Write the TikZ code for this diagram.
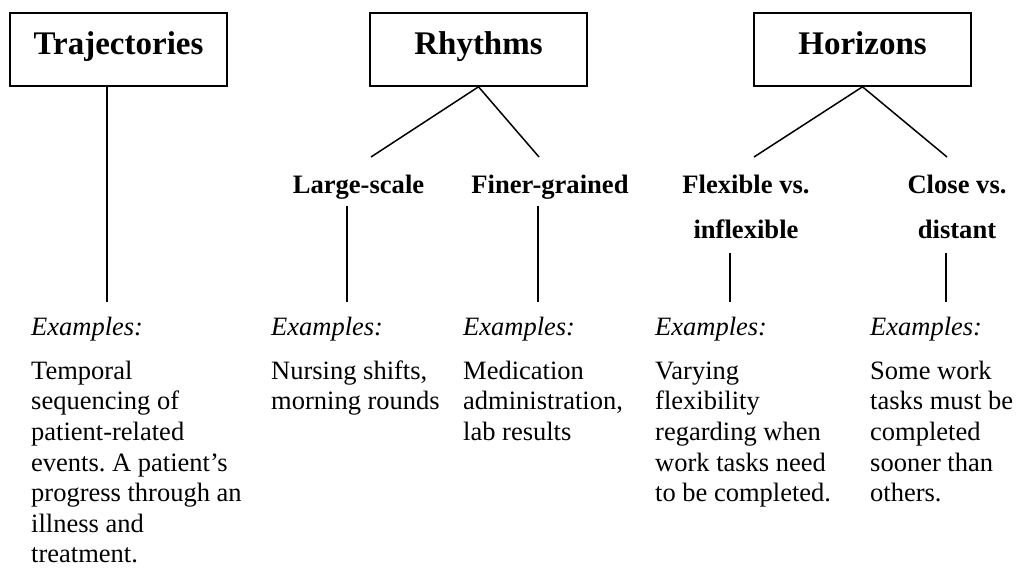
\documentclass[tikz,border=0pt]{standalone}
\usepackage{fontspec}
\setmainfont{Liberation Serif}
\frenchspacing
\newcommand{\fl}{\rule{0pt}{20pt}}
\begin{document}
\begin{tikzpicture}[x=1pt,y=-1pt,
  cat/.style={draw,line width=1.6pt,minimum width=217pt,minimum height=73pt,inner sep=0pt,
    font=\fontsize{33}{38}\selectfont\bfseries,text height=21pt,text depth=11pt},
  sub/.style={inner sep=0pt,align=center,anchor=north,font=\fontsize{26.6}{45}\selectfont\bfseries},
  ex/.style={inner sep=0pt,anchor=north west,font=\fontsize{26.5}{31}\selectfont\itshape},
  body/.style={inner sep=0pt,anchor=north west,align=left,font=\fontsize{26.5}{30.6}\selectfont},
  conn/.style={line width=1.5pt}]
\useasboundingbox (0,0) rectangle (1016,567);

% category boxes
\node[cat] (traj) at (118.5,49.5) {Trajectories};
\node[cat] (rhy) at (478.5,49.5) {Rhythms};
\node[cat] (hor) at (862.5,49.5) {Horizons};

% sub headings
\node[sub] (ls) at (358.5,173) {\fl Large-scale};
\node[sub] (fg) at (550,173) {\fl Finer-grained};
\node[sub] (fx) at (746,173) {\fl Flexible vs.\\inflexible};
\node[sub] (cd) at (957,173) {\fl Close vs.\\distant};

% examples
\node[ex] (e1) at (31,315) {\fl Examples:};
\node[ex] (e2) at (271,315) {\fl Examples:};
\node[ex] (e3) at (463,315) {\fl Examples:};
\node[ex] (e4) at (655,315) {\fl Examples:};
\node[ex] (e5) at (870,315) {\fl Examples:};

\node[body] (b1) at (31,359) {\fl Temporal\\sequencing of\\patient-related\\events. A patient’s\\progress through an\\illness and\\treatment.};
\node[body] (b2) at (271,359) {\fl Nursing shifts,\\morning rounds};
\node[body] (b3) at (463,359) {\fl Medication\\administration,\\lab results};
\node[body] (b4) at (655,359) {\fl Varying\\flexibility\\regarding when\\work tasks need\\to be completed.};
\node[body] (b5) at (870,359) {\fl Some work\\tasks must be\\completed\\sooner than\\others.};

% connectors
\coordinate (t1) at (107,302);
\draw[conn] (traj.south -| t1) -- (t1);

\coordinate (r1) at (371,157);
\coordinate (r2) at (539,157);
\draw[conn] (r1) -- (rhy.south) -- (r2);

\coordinate (h1) at (754,157);
\coordinate (h2) at (947,157);
\draw[conn] (h1) -- (hor.south) -- (h2);

\coordinate (lsT) at (347,206);
\coordinate (lsB) at (347,302);
\draw[conn] (lsT) -- (lsB);
\coordinate (fgT) at (538,206);
\coordinate (fgB) at (538,302);
\draw[conn] (fgT) -- (fgB);
\coordinate (fxT) at (730,253);
\coordinate (fxB) at (730,302);
\draw[conn] (fxT) -- (fxB);
\coordinate (cdT) at (946,253);
\coordinate (cdB) at (946,302);
\draw[conn] (cdT) -- (cdB);
\end{tikzpicture}
\end{document}
